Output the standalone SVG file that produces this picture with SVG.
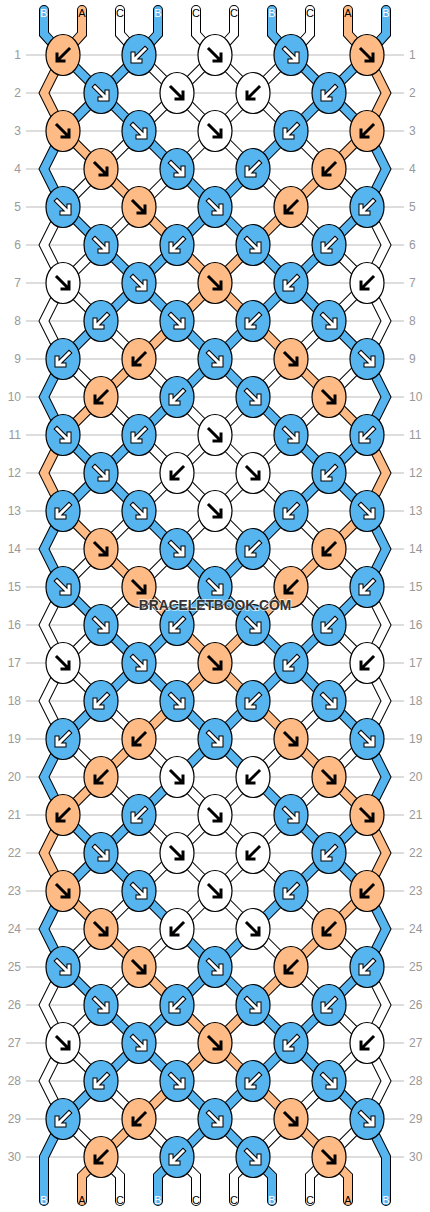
<svg xmlns="http://www.w3.org/2000/svg" width="430" height="1212" viewBox="0 0 430 1212">
<style>
.grid{stroke:#bbb;stroke-width:1;fill:none}
.ol{fill:none;stroke:#000;stroke-width:10;stroke-linejoin:miter;stroke-linecap:round}
.cb,.ca,.cc{fill:none;stroke-width:8;stroke-linejoin:miter;stroke-linecap:round}
.cb{stroke:#56b4ef}.ca{stroke:#ffbb85}.cc{stroke:#fff}
ellipse{stroke:#000;stroke-width:1.2}
.b{fill:#56b4ef}.o{fill:#ffbb85}.w{fill:#fff}
.ak{fill:none;stroke:#000;stroke-width:3;stroke-linecap:square;stroke-linejoin:miter}
.ao{fill:none;stroke:#000;stroke-width:5;stroke-linecap:square;stroke-linejoin:miter}
.aw{fill:none;stroke:#fff;stroke-width:3;stroke-linecap:square;stroke-linejoin:miter}
.rl{font-family:"Liberation Sans",Arial,sans-serif;font-size:12px;fill:#999}
.sl{font-family:"Liberation Sans",Arial,sans-serif;font-size:11px;text-anchor:middle}
.tw{fill:#fff}.tk{fill:#000}
.wm{font-family:"Liberation Sans",Arial,sans-serif;font-weight:bold;font-size:13.8px;text-anchor:middle;fill:#333;stroke:#fff;stroke-opacity:0.6;stroke-width:2;paint-order:stroke}
</style>
<defs>
<path id="se" d="M-6,-6 L4.5,4.5 M6,-1 L6,6 L-1,6"/>
<path id="sw" d="M6,-6 L-4.5,4.5 M-6,-1 L-6,6 L1,6"/>
<g id="seK"><use href="#se" class="ak"/></g>
<g id="swK"><use href="#sw" class="ak"/></g>
<g id="seW"><use href="#se" class="ao"/><use href="#se" class="aw"/></g>
<g id="swW"><use href="#sw" class="ao"/><use href="#sw" class="aw"/></g>
<path id="p1" d="M44,10 L44,34 L63,55 L367,359 L386,397 L367,435 L63,739 L44,777 L63,815 L367,1119 L386,1157 L386,1201"/>
<path id="p2" d="M82,10 L82,34 L63,55 L44,93 L63,131 L367,435 L386,473 L367,511 L63,815 L44,853 L63,891 L329,1157 L348,1176 L348,1201"/>
<path id="p3" d="M120,10 L120,34 L139,55 L367,283 L386,321 L367,359 L63,663 L44,701 L63,739 L367,1043 L386,1081 L367,1119 L329,1157 L310,1176 L310,1201"/>
<path id="p4" d="M158,10 L158,34 L139,55 L63,131 L44,169 L63,207 L367,511 L386,549 L367,587 L63,891 L44,929 L63,967 L253,1157 L272,1176 L272,1201"/>
<path id="p5" d="M196,10 L196,34 L215,55 L367,207 L386,245 L367,283 L63,587 L44,625 L63,663 L367,967 L386,1005 L367,1043 L253,1157 L234,1176 L234,1201"/>
<path id="p6" d="M234,10 L234,34 L215,55 L63,207 L44,245 L63,283 L367,587 L386,625 L367,663 L63,967 L44,1005 L63,1043 L177,1157 L196,1176 L196,1201"/>
<path id="p7" d="M272,10 L272,34 L291,55 L367,131 L386,169 L367,207 L63,511 L44,549 L63,587 L367,891 L386,929 L367,967 L177,1157 L158,1176 L158,1201"/>
<path id="p8" d="M310,10 L310,34 L291,55 L63,283 L44,321 L63,359 L367,663 L386,701 L367,739 L63,1043 L44,1081 L63,1119 L101,1157 L120,1176 L120,1201"/>
<path id="p9" d="M348,10 L348,34 L367,55 L386,93 L367,131 L63,435 L44,473 L63,511 L367,815 L386,853 L367,891 L101,1157 L82,1176 L82,1201"/>
<path id="p10" d="M386,10 L386,34 L367,55 L63,359 L44,397 L63,435 L367,739 L386,777 L367,815 L63,1119 L44,1157 L44,1201"/>
</defs>
<g id="grid">
<path class="grid" d="M26,55H404M26,93H404M26,131H404M26,169H404M26,207H404M26,245H404M26,283H404M26,321H404M26,359H404M26,397H404M26,435H404M26,473H404M26,511H404M26,549H404M26,587H404M26,625H404M26,663H404M26,701H404M26,739H404M26,777H404M26,815H404M26,853H404M26,891H404M26,929H404M26,967H404M26,1005H404M26,1043H404M26,1081H404M26,1119H404M26,1157H404"/>
</g>
<g id="row-labels" class="rl">
<g text-anchor="end">
<text x="21" y="59">1</text><text x="21" y="97">2</text><text x="21" y="135">3</text><text x="21" y="173">4</text><text x="21" y="211">5</text><text x="21" y="249">6</text><text x="21" y="287">7</text><text x="21" y="325">8</text><text x="21" y="363">9</text><text x="21" y="401">10</text><text x="21" y="439">11</text><text x="21" y="477">12</text><text x="21" y="515">13</text><text x="21" y="553">14</text><text x="21" y="591">15</text><text x="21" y="629">16</text><text x="21" y="667">17</text><text x="21" y="705">18</text><text x="21" y="743">19</text><text x="21" y="781">20</text><text x="21" y="819">21</text><text x="21" y="857">22</text><text x="21" y="895">23</text><text x="21" y="933">24</text><text x="21" y="971">25</text><text x="21" y="1009">26</text><text x="21" y="1047">27</text><text x="21" y="1085">28</text><text x="21" y="1123">29</text><text x="21" y="1161">30</text>
</g>
<g text-anchor="start">
<text x="409" y="59">1</text><text x="409" y="97">2</text><text x="409" y="135">3</text><text x="409" y="173">4</text><text x="409" y="211">5</text><text x="409" y="249">6</text><text x="409" y="287">7</text><text x="409" y="325">8</text><text x="409" y="363">9</text><text x="409" y="401">10</text><text x="409" y="439">11</text><text x="409" y="477">12</text><text x="409" y="515">13</text><text x="409" y="553">14</text><text x="409" y="591">15</text><text x="409" y="629">16</text><text x="409" y="667">17</text><text x="409" y="705">18</text><text x="409" y="743">19</text><text x="409" y="781">20</text><text x="409" y="819">21</text><text x="409" y="857">22</text><text x="409" y="895">23</text><text x="409" y="933">24</text><text x="409" y="971">25</text><text x="409" y="1009">26</text><text x="409" y="1047">27</text><text x="409" y="1085">28</text><text x="409" y="1123">29</text><text x="409" y="1161">30</text>
</g>
</g>
<g id="connectors">
<use href="#p1" class="ol"/><use href="#p1" class="cb"/>
<use href="#p2" class="ol"/><use href="#p2" class="ca"/>
<use href="#p3" class="ol"/><use href="#p3" class="cc"/>
<use href="#p4" class="ol"/><use href="#p4" class="cb"/>
<use href="#p5" class="ol"/><use href="#p5" class="cc"/>
<use href="#p6" class="ol"/><use href="#p6" class="cc"/>
<use href="#p7" class="ol"/><use href="#p7" class="cb"/>
<use href="#p8" class="ol"/><use href="#p8" class="cc"/>
<use href="#p9" class="ol"/><use href="#p9" class="ca"/>
<use href="#p10" class="ol"/><use href="#p10" class="cb"/>
</g>
<g id="string-labels" class="sl">
<text x="44" y="17" class="tw">B</text><text x="82" y="17" class="tk">A</text><text x="120" y="17" class="tk">C</text><text x="158" y="17" class="tw">B</text><text x="196" y="17" class="tk">C</text><text x="234" y="17" class="tk">C</text><text x="272" y="17" class="tw">B</text><text x="310" y="17" class="tk">C</text><text x="348" y="17" class="tk">A</text><text x="386" y="17" class="tw">B</text>
<text x="44" y="1204" class="tw">B</text><text x="82" y="1204" class="tk">A</text><text x="120" y="1204" class="tk">C</text><text x="158" y="1204" class="tw">B</text><text x="196" y="1204" class="tk">C</text><text x="234" y="1204" class="tk">C</text><text x="272" y="1204" class="tw">B</text><text x="310" y="1204" class="tk">C</text><text x="348" y="1204" class="tk">A</text><text x="386" y="1204" class="tw">B</text>
</g>
<g id="knots">
<g id="k1-1"><ellipse cx="63" cy="55" rx="17" ry="20.5" class="o"/><use href="#swK" x="63" y="55"/></g>
<g id="k1-2"><ellipse cx="139" cy="55" rx="17" ry="20.5" class="b"/><use href="#swW" x="139" y="55"/></g>
<g id="k1-3"><ellipse cx="215" cy="55" rx="17" ry="20.5" class="w"/><use href="#seK" x="215" y="55"/></g>
<g id="k1-4"><ellipse cx="291" cy="55" rx="17" ry="20.5" class="b"/><use href="#seW" x="291" y="55"/></g>
<g id="k1-5"><ellipse cx="367" cy="55" rx="17" ry="20.5" class="o"/><use href="#seK" x="367" y="55"/></g>
<g id="k2-1"><ellipse cx="101" cy="93" rx="17" ry="20.5" class="b"/><use href="#seW" x="101" y="93"/></g>
<g id="k2-2"><ellipse cx="177" cy="93" rx="17" ry="20.5" class="w"/><use href="#seK" x="177" y="93"/></g>
<g id="k2-3"><ellipse cx="253" cy="93" rx="17" ry="20.5" class="w"/><use href="#swK" x="253" y="93"/></g>
<g id="k2-4"><ellipse cx="329" cy="93" rx="17" ry="20.5" class="b"/><use href="#swW" x="329" y="93"/></g>
<g id="k3-1"><ellipse cx="63" cy="131" rx="17" ry="20.5" class="o"/><use href="#seK" x="63" y="131"/></g>
<g id="k3-2"><ellipse cx="139" cy="131" rx="17" ry="20.5" class="b"/><use href="#seW" x="139" y="131"/></g>
<g id="k3-3"><ellipse cx="215" cy="131" rx="17" ry="20.5" class="w"/><use href="#seK" x="215" y="131"/></g>
<g id="k3-4"><ellipse cx="291" cy="131" rx="17" ry="20.5" class="b"/><use href="#swW" x="291" y="131"/></g>
<g id="k3-5"><ellipse cx="367" cy="131" rx="17" ry="20.5" class="o"/><use href="#swK" x="367" y="131"/></g>
<g id="k4-1"><ellipse cx="101" cy="169" rx="17" ry="20.5" class="o"/><use href="#seK" x="101" y="169"/></g>
<g id="k4-2"><ellipse cx="177" cy="169" rx="17" ry="20.5" class="b"/><use href="#seW" x="177" y="169"/></g>
<g id="k4-3"><ellipse cx="253" cy="169" rx="17" ry="20.5" class="b"/><use href="#swW" x="253" y="169"/></g>
<g id="k4-4"><ellipse cx="329" cy="169" rx="17" ry="20.5" class="o"/><use href="#swK" x="329" y="169"/></g>
<g id="k5-1"><ellipse cx="63" cy="207" rx="17" ry="20.5" class="b"/><use href="#seW" x="63" y="207"/></g>
<g id="k5-2"><ellipse cx="139" cy="207" rx="17" ry="20.5" class="o"/><use href="#seK" x="139" y="207"/></g>
<g id="k5-3"><ellipse cx="215" cy="207" rx="17" ry="20.5" class="b"/><use href="#seW" x="215" y="207"/></g>
<g id="k5-4"><ellipse cx="291" cy="207" rx="17" ry="20.5" class="o"/><use href="#swK" x="291" y="207"/></g>
<g id="k5-5"><ellipse cx="367" cy="207" rx="17" ry="20.5" class="b"/><use href="#swW" x="367" y="207"/></g>
<g id="k6-1"><ellipse cx="101" cy="245" rx="17" ry="20.5" class="b"/><use href="#seW" x="101" y="245"/></g>
<g id="k6-2"><ellipse cx="177" cy="245" rx="17" ry="20.5" class="b"/><use href="#swW" x="177" y="245"/></g>
<g id="k6-3"><ellipse cx="253" cy="245" rx="17" ry="20.5" class="b"/><use href="#seW" x="253" y="245"/></g>
<g id="k6-4"><ellipse cx="329" cy="245" rx="17" ry="20.5" class="b"/><use href="#swW" x="329" y="245"/></g>
<g id="k7-1"><ellipse cx="63" cy="283" rx="17" ry="20.5" class="w"/><use href="#seK" x="63" y="283"/></g>
<g id="k7-2"><ellipse cx="139" cy="283" rx="17" ry="20.5" class="b"/><use href="#seW" x="139" y="283"/></g>
<g id="k7-3"><ellipse cx="215" cy="283" rx="17" ry="20.5" class="o"/><use href="#seK" x="215" y="283"/></g>
<g id="k7-4"><ellipse cx="291" cy="283" rx="17" ry="20.5" class="b"/><use href="#swW" x="291" y="283"/></g>
<g id="k7-5"><ellipse cx="367" cy="283" rx="17" ry="20.5" class="w"/><use href="#swK" x="367" y="283"/></g>
<g id="k8-1"><ellipse cx="101" cy="321" rx="17" ry="20.5" class="b"/><use href="#swW" x="101" y="321"/></g>
<g id="k8-2"><ellipse cx="177" cy="321" rx="17" ry="20.5" class="b"/><use href="#seW" x="177" y="321"/></g>
<g id="k8-3"><ellipse cx="253" cy="321" rx="17" ry="20.5" class="b"/><use href="#swW" x="253" y="321"/></g>
<g id="k8-4"><ellipse cx="329" cy="321" rx="17" ry="20.5" class="b"/><use href="#seW" x="329" y="321"/></g>
<g id="k9-1"><ellipse cx="63" cy="359" rx="17" ry="20.5" class="b"/><use href="#swW" x="63" y="359"/></g>
<g id="k9-2"><ellipse cx="139" cy="359" rx="17" ry="20.5" class="o"/><use href="#swK" x="139" y="359"/></g>
<g id="k9-3"><ellipse cx="215" cy="359" rx="17" ry="20.5" class="b"/><use href="#seW" x="215" y="359"/></g>
<g id="k9-4"><ellipse cx="291" cy="359" rx="17" ry="20.5" class="o"/><use href="#seK" x="291" y="359"/></g>
<g id="k9-5"><ellipse cx="367" cy="359" rx="17" ry="20.5" class="b"/><use href="#seW" x="367" y="359"/></g>
<g id="k10-1"><ellipse cx="101" cy="397" rx="17" ry="20.5" class="o"/><use href="#swK" x="101" y="397"/></g>
<g id="k10-2"><ellipse cx="177" cy="397" rx="17" ry="20.5" class="b"/><use href="#swW" x="177" y="397"/></g>
<g id="k10-3"><ellipse cx="253" cy="397" rx="17" ry="20.5" class="b"/><use href="#seW" x="253" y="397"/></g>
<g id="k10-4"><ellipse cx="329" cy="397" rx="17" ry="20.5" class="o"/><use href="#seK" x="329" y="397"/></g>
<g id="k11-1"><ellipse cx="63" cy="435" rx="17" ry="20.5" class="b"/><use href="#seW" x="63" y="435"/></g>
<g id="k11-2"><ellipse cx="139" cy="435" rx="17" ry="20.5" class="b"/><use href="#swW" x="139" y="435"/></g>
<g id="k11-3"><ellipse cx="215" cy="435" rx="17" ry="20.5" class="w"/><use href="#seK" x="215" y="435"/></g>
<g id="k11-4"><ellipse cx="291" cy="435" rx="17" ry="20.5" class="b"/><use href="#seW" x="291" y="435"/></g>
<g id="k11-5"><ellipse cx="367" cy="435" rx="17" ry="20.5" class="b"/><use href="#swW" x="367" y="435"/></g>
<g id="k12-1"><ellipse cx="101" cy="473" rx="17" ry="20.5" class="b"/><use href="#seW" x="101" y="473"/></g>
<g id="k12-2"><ellipse cx="177" cy="473" rx="17" ry="20.5" class="w"/><use href="#swK" x="177" y="473"/></g>
<g id="k12-3"><ellipse cx="253" cy="473" rx="17" ry="20.5" class="w"/><use href="#seK" x="253" y="473"/></g>
<g id="k12-4"><ellipse cx="329" cy="473" rx="17" ry="20.5" class="b"/><use href="#swW" x="329" y="473"/></g>
<g id="k13-1"><ellipse cx="63" cy="511" rx="17" ry="20.5" class="b"/><use href="#swW" x="63" y="511"/></g>
<g id="k13-2"><ellipse cx="139" cy="511" rx="17" ry="20.5" class="b"/><use href="#seW" x="139" y="511"/></g>
<g id="k13-3"><ellipse cx="215" cy="511" rx="17" ry="20.5" class="w"/><use href="#seK" x="215" y="511"/></g>
<g id="k13-4"><ellipse cx="291" cy="511" rx="17" ry="20.5" class="b"/><use href="#swW" x="291" y="511"/></g>
<g id="k13-5"><ellipse cx="367" cy="511" rx="17" ry="20.5" class="b"/><use href="#seW" x="367" y="511"/></g>
<g id="k14-1"><ellipse cx="101" cy="549" rx="17" ry="20.5" class="o"/><use href="#seK" x="101" y="549"/></g>
<g id="k14-2"><ellipse cx="177" cy="549" rx="17" ry="20.5" class="b"/><use href="#seW" x="177" y="549"/></g>
<g id="k14-3"><ellipse cx="253" cy="549" rx="17" ry="20.5" class="b"/><use href="#swW" x="253" y="549"/></g>
<g id="k14-4"><ellipse cx="329" cy="549" rx="17" ry="20.5" class="o"/><use href="#swK" x="329" y="549"/></g>
<g id="k15-1"><ellipse cx="63" cy="587" rx="17" ry="20.5" class="b"/><use href="#seW" x="63" y="587"/></g>
<g id="k15-2"><ellipse cx="139" cy="587" rx="17" ry="20.5" class="o"/><use href="#seK" x="139" y="587"/></g>
<g id="k15-3"><ellipse cx="215" cy="587" rx="17" ry="20.5" class="b"/><use href="#seW" x="215" y="587"/></g>
<g id="k15-4"><ellipse cx="291" cy="587" rx="17" ry="20.5" class="o"/><use href="#swK" x="291" y="587"/></g>
<g id="k15-5"><ellipse cx="367" cy="587" rx="17" ry="20.5" class="b"/><use href="#swW" x="367" y="587"/></g>
<g id="k16-1"><ellipse cx="101" cy="625" rx="17" ry="20.5" class="b"/><use href="#seW" x="101" y="625"/></g>
<g id="k16-2"><ellipse cx="177" cy="625" rx="17" ry="20.5" class="b"/><use href="#swW" x="177" y="625"/></g>
<g id="k16-3"><ellipse cx="253" cy="625" rx="17" ry="20.5" class="b"/><use href="#seW" x="253" y="625"/></g>
<g id="k16-4"><ellipse cx="329" cy="625" rx="17" ry="20.5" class="b"/><use href="#swW" x="329" y="625"/></g>
<g id="k17-1"><ellipse cx="63" cy="663" rx="17" ry="20.5" class="w"/><use href="#seK" x="63" y="663"/></g>
<g id="k17-2"><ellipse cx="139" cy="663" rx="17" ry="20.5" class="b"/><use href="#seW" x="139" y="663"/></g>
<g id="k17-3"><ellipse cx="215" cy="663" rx="17" ry="20.5" class="o"/><use href="#seK" x="215" y="663"/></g>
<g id="k17-4"><ellipse cx="291" cy="663" rx="17" ry="20.5" class="b"/><use href="#swW" x="291" y="663"/></g>
<g id="k17-5"><ellipse cx="367" cy="663" rx="17" ry="20.5" class="w"/><use href="#swK" x="367" y="663"/></g>
<g id="k18-1"><ellipse cx="101" cy="701" rx="17" ry="20.5" class="b"/><use href="#swW" x="101" y="701"/></g>
<g id="k18-2"><ellipse cx="177" cy="701" rx="17" ry="20.5" class="b"/><use href="#seW" x="177" y="701"/></g>
<g id="k18-3"><ellipse cx="253" cy="701" rx="17" ry="20.5" class="b"/><use href="#swW" x="253" y="701"/></g>
<g id="k18-4"><ellipse cx="329" cy="701" rx="17" ry="20.5" class="b"/><use href="#seW" x="329" y="701"/></g>
<g id="k19-1"><ellipse cx="63" cy="739" rx="17" ry="20.5" class="b"/><use href="#swW" x="63" y="739"/></g>
<g id="k19-2"><ellipse cx="139" cy="739" rx="17" ry="20.5" class="o"/><use href="#swK" x="139" y="739"/></g>
<g id="k19-3"><ellipse cx="215" cy="739" rx="17" ry="20.5" class="b"/><use href="#seW" x="215" y="739"/></g>
<g id="k19-4"><ellipse cx="291" cy="739" rx="17" ry="20.5" class="o"/><use href="#seK" x="291" y="739"/></g>
<g id="k19-5"><ellipse cx="367" cy="739" rx="17" ry="20.5" class="b"/><use href="#seW" x="367" y="739"/></g>
<g id="k20-1"><ellipse cx="101" cy="777" rx="17" ry="20.5" class="o"/><use href="#swK" x="101" y="777"/></g>
<g id="k20-2"><ellipse cx="177" cy="777" rx="17" ry="20.5" class="w"/><use href="#seK" x="177" y="777"/></g>
<g id="k20-3"><ellipse cx="253" cy="777" rx="17" ry="20.5" class="w"/><use href="#swK" x="253" y="777"/></g>
<g id="k20-4"><ellipse cx="329" cy="777" rx="17" ry="20.5" class="o"/><use href="#seK" x="329" y="777"/></g>
<g id="k21-1"><ellipse cx="63" cy="815" rx="17" ry="20.5" class="o"/><use href="#swK" x="63" y="815"/></g>
<g id="k21-2"><ellipse cx="139" cy="815" rx="17" ry="20.5" class="b"/><use href="#swW" x="139" y="815"/></g>
<g id="k21-3"><ellipse cx="215" cy="815" rx="17" ry="20.5" class="w"/><use href="#seK" x="215" y="815"/></g>
<g id="k21-4"><ellipse cx="291" cy="815" rx="17" ry="20.5" class="b"/><use href="#seW" x="291" y="815"/></g>
<g id="k21-5"><ellipse cx="367" cy="815" rx="17" ry="20.5" class="o"/><use href="#seK" x="367" y="815"/></g>
<g id="k22-1"><ellipse cx="101" cy="853" rx="17" ry="20.5" class="b"/><use href="#seW" x="101" y="853"/></g>
<g id="k22-2"><ellipse cx="177" cy="853" rx="17" ry="20.5" class="w"/><use href="#seK" x="177" y="853"/></g>
<g id="k22-3"><ellipse cx="253" cy="853" rx="17" ry="20.5" class="w"/><use href="#swK" x="253" y="853"/></g>
<g id="k22-4"><ellipse cx="329" cy="853" rx="17" ry="20.5" class="b"/><use href="#swW" x="329" y="853"/></g>
<g id="k23-1"><ellipse cx="63" cy="891" rx="17" ry="20.5" class="o"/><use href="#seK" x="63" y="891"/></g>
<g id="k23-2"><ellipse cx="139" cy="891" rx="17" ry="20.5" class="b"/><use href="#seW" x="139" y="891"/></g>
<g id="k23-3"><ellipse cx="215" cy="891" rx="17" ry="20.5" class="w"/><use href="#seK" x="215" y="891"/></g>
<g id="k23-4"><ellipse cx="291" cy="891" rx="17" ry="20.5" class="b"/><use href="#swW" x="291" y="891"/></g>
<g id="k23-5"><ellipse cx="367" cy="891" rx="17" ry="20.5" class="o"/><use href="#swK" x="367" y="891"/></g>
<g id="k24-1"><ellipse cx="101" cy="929" rx="17" ry="20.5" class="o"/><use href="#seK" x="101" y="929"/></g>
<g id="k24-2"><ellipse cx="177" cy="929" rx="17" ry="20.5" class="w"/><use href="#swK" x="177" y="929"/></g>
<g id="k24-3"><ellipse cx="253" cy="929" rx="17" ry="20.5" class="w"/><use href="#seK" x="253" y="929"/></g>
<g id="k24-4"><ellipse cx="329" cy="929" rx="17" ry="20.5" class="o"/><use href="#swK" x="329" y="929"/></g>
<g id="k25-1"><ellipse cx="63" cy="967" rx="17" ry="20.5" class="b"/><use href="#seW" x="63" y="967"/></g>
<g id="k25-2"><ellipse cx="139" cy="967" rx="17" ry="20.5" class="o"/><use href="#seK" x="139" y="967"/></g>
<g id="k25-3"><ellipse cx="215" cy="967" rx="17" ry="20.5" class="b"/><use href="#seW" x="215" y="967"/></g>
<g id="k25-4"><ellipse cx="291" cy="967" rx="17" ry="20.5" class="o"/><use href="#swK" x="291" y="967"/></g>
<g id="k25-5"><ellipse cx="367" cy="967" rx="17" ry="20.5" class="b"/><use href="#swW" x="367" y="967"/></g>
<g id="k26-1"><ellipse cx="101" cy="1005" rx="17" ry="20.5" class="b"/><use href="#seW" x="101" y="1005"/></g>
<g id="k26-2"><ellipse cx="177" cy="1005" rx="17" ry="20.5" class="b"/><use href="#swW" x="177" y="1005"/></g>
<g id="k26-3"><ellipse cx="253" cy="1005" rx="17" ry="20.5" class="b"/><use href="#seW" x="253" y="1005"/></g>
<g id="k26-4"><ellipse cx="329" cy="1005" rx="17" ry="20.5" class="b"/><use href="#swW" x="329" y="1005"/></g>
<g id="k27-1"><ellipse cx="63" cy="1043" rx="17" ry="20.5" class="w"/><use href="#seK" x="63" y="1043"/></g>
<g id="k27-2"><ellipse cx="139" cy="1043" rx="17" ry="20.5" class="b"/><use href="#seW" x="139" y="1043"/></g>
<g id="k27-3"><ellipse cx="215" cy="1043" rx="17" ry="20.5" class="o"/><use href="#seK" x="215" y="1043"/></g>
<g id="k27-4"><ellipse cx="291" cy="1043" rx="17" ry="20.5" class="b"/><use href="#swW" x="291" y="1043"/></g>
<g id="k27-5"><ellipse cx="367" cy="1043" rx="17" ry="20.5" class="w"/><use href="#swK" x="367" y="1043"/></g>
<g id="k28-1"><ellipse cx="101" cy="1081" rx="17" ry="20.5" class="b"/><use href="#swW" x="101" y="1081"/></g>
<g id="k28-2"><ellipse cx="177" cy="1081" rx="17" ry="20.5" class="b"/><use href="#seW" x="177" y="1081"/></g>
<g id="k28-3"><ellipse cx="253" cy="1081" rx="17" ry="20.5" class="b"/><use href="#swW" x="253" y="1081"/></g>
<g id="k28-4"><ellipse cx="329" cy="1081" rx="17" ry="20.5" class="b"/><use href="#seW" x="329" y="1081"/></g>
<g id="k29-1"><ellipse cx="63" cy="1119" rx="17" ry="20.5" class="b"/><use href="#swW" x="63" y="1119"/></g>
<g id="k29-2"><ellipse cx="139" cy="1119" rx="17" ry="20.5" class="o"/><use href="#swK" x="139" y="1119"/></g>
<g id="k29-3"><ellipse cx="215" cy="1119" rx="17" ry="20.5" class="b"/><use href="#seW" x="215" y="1119"/></g>
<g id="k29-4"><ellipse cx="291" cy="1119" rx="17" ry="20.5" class="o"/><use href="#seK" x="291" y="1119"/></g>
<g id="k29-5"><ellipse cx="367" cy="1119" rx="17" ry="20.5" class="b"/><use href="#seW" x="367" y="1119"/></g>
<g id="k30-1"><ellipse cx="101" cy="1157" rx="17" ry="20.5" class="o"/><use href="#swK" x="101" y="1157"/></g>
<g id="k30-2"><ellipse cx="177" cy="1157" rx="17" ry="20.5" class="b"/><use href="#swW" x="177" y="1157"/></g>
<g id="k30-3"><ellipse cx="253" cy="1157" rx="17" ry="20.5" class="b"/><use href="#seW" x="253" y="1157"/></g>
<g id="k30-4"><ellipse cx="329" cy="1157" rx="17" ry="20.5" class="o"/><use href="#seK" x="329" y="1157"/></g>
</g>
<g id="watermark"><text x="215" y="610" class="wm">BRACELETBOOK.COM</text></g>
</svg>
